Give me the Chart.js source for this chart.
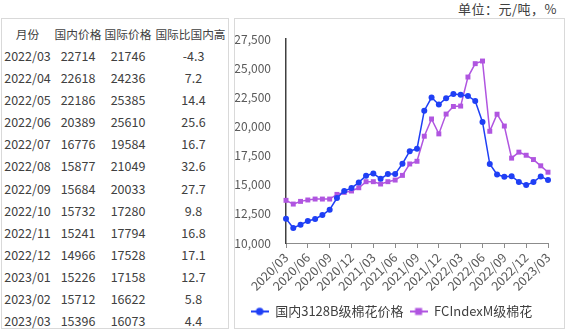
<!DOCTYPE html>
<html>
<head>
<meta charset="utf-8">
<script src="https://cdn.jsdelivr.net/npm/chart.js@4/dist/chart.umd.min.js"></script>
<style>
  body { margin: 0; width: 568px; height: 335px; background: #fff; position: relative; overflow: hidden;
         font-family: "Noto Sans CJK SC", "Noto Sans", sans-serif; color: #404040; }
  #unit { position: absolute; left: 458px; top: 0px; font-size: 13px; line-height: 17px; color: #404040; letter-spacing: 0.5px; }
  #tableBox { position: absolute; left: 1px; top: 18px; width: 226px; height: 309px; border: 1px solid #d9d9d9; }
  #priceTable { position: absolute; left: 0; top: 3px; border-collapse: collapse; font-size: 12.5px; }
  #priceTable td { height: 22.15px; padding: 0; text-align: center; white-space: nowrap; }
  #priceTable tr.head td { font-size: 11.7px; }
  #chartBox { position: absolute; left: 234px; top: 18px; width: 329px; height: 309px; border: 1px solid #d9d9d9; }
  #chartWrap { position: absolute; left: 0; top: 0; width: 329px; height: 309px; }
</style>
</head>
<body>
<div id="unit">单位：元/吨，%</div>
<div id="tableBox">
  <table id="priceTable">
    <colgroup><col style="width:51px"><col style="width:50px"><col style="width:50px"><col style="width:75px"></colgroup>
    <tbody></tbody>
  </table>
</div>
<div id="chartBox"><div id="chartWrap"><canvas id="cottonChart"></canvas></div></div>

<script>
// 月份（2020/03 - 2023/03）
const months = [
  '2020/03','2020/04','2020/05','2020/06','2020/07','2020/08','2020/09','2020/10','2020/11','2020/12',
  '2021/01','2021/02','2021/03','2021/04','2021/05','2021/06','2021/07','2021/08','2021/09','2021/10',
  '2021/11','2021/12','2022/01','2022/02','2022/03','2022/04','2022/05','2022/06','2022/07','2022/08',
  '2022/09','2022/10','2022/11','2022/12','2023/01','2023/02','2023/03'
];

// 国内3128B级棉花价格
const domesticPrice = [
  12090, 11290, 11570, 11890, 12060, 12400, 12860, 13860, 14460, 14710,
  15200, 15770, 15970, 15510, 15910, 15910, 16800, 17880, 18080, 21350,
  22480, 21880, 22420, 22790, 22714, 22618, 22186, 20389, 16776, 15877,
  15684, 15732, 15241, 14966, 15226, 15712, 15396
];

// FCIndexM级棉花
const intlPrice = [
  13660, 13340, 13570, 13690, 13770, 13770, 13770, 14170, 14340, 14460,
  14740, 15260, 15260, 15060, 15260, 15400, 15800, 16780, 17010, 19160,
  20640, 19360, 21060, 21710, 21746, 24236, 25385, 25610, 19584, 21049,
  20033, 17280, 17794, 17528, 17158, 16622, 16073
];

// 国际比国内高 (%)，表格最后13个月
const intlPremium = [-4.3, 7.2, 14.4, 25.6, 16.7, 32.6, 27.7, 9.8, 16.8, 17.1, 12.7, 5.8, 4.4];

const yTicks = [10000, 12500, 15000, 17500, 20000, 22500, 25000, 27500];

const blue = '#1f3ff5';
const purple = '#b055e0';

// 表格
function renderTable() {
  const body = document.querySelector('#priceTable tbody');
  let html = '<tr class="head"><td>月份</td><td>国内价格</td><td>国际价格</td><td>国际比国内高</td></tr>';
  const start = months.length - intlPremium.length;
  intlPremium.forEach((p, i) => {
    const k = start + i;
    html += `<tr><td>${months[k]}</td><td>${domesticPrice[k]}</td><td>${intlPrice[k]}</td><td style="padding-left:6px">${p}</td></tr>`;
  });
  body.innerHTML = html;
}

// 图例标记 (-●- / -■-)
function legendMark(color, square) {
  const c = document.createElement('canvas');
  c.width = 18; c.height = 10;
  const g = c.getContext('2d');
  g.strokeStyle = color; g.lineWidth = 2;
  g.beginPath(); g.moveTo(0, 5); g.lineTo(18, 5); g.stroke();
  g.fillStyle = color;
  if (square) g.fillRect(5.5, 1.5, 7, 7);
  else { g.beginPath(); g.arc(9, 5, 3.8, 0, Math.PI * 2); g.fill(); }
  return c;
}

function renderChart() {
  const ctx = document.getElementById('cottonChart').getContext('2d');
  const marks = [legendMark(blue, false), legendMark(purple, true)];
  new Chart(ctx, {
    type: 'line',
    data: {
      labels: months,
      datasets: [{
        label: '国内3128B级棉花价格',
        data: domesticPrice,
        borderColor: blue,
        backgroundColor: blue,
        borderWidth: 1.5,
        pointStyle: 'circle',
        pointRadius: 3,
        pointBorderWidth: 0,
        tension: 0
      }, {
        label: 'FCIndexM级棉花',
        data: intlPrice,
        borderColor: purple,
        backgroundColor: purple,
        borderWidth: 1.5,
        pointStyle: 'rect',
        pointRadius: 3.5,
        pointBorderWidth: 0,
        tension: 0
      }]
    },
    options: {
      responsive: true,
      maintainAspectRatio: false,
      animation: false,
      layout: { padding: { top: 20, right: 16, left: 0, bottom: 0 } },
      plugins: {
        tooltip: { enabled: false },
        legend: {
          position: 'bottom',
          maxWidth: 329,
          labels: {
            usePointStyle: true,
            pointStyleWidth: 18,
            padding: 6,
            color: '#404040',
            font: { family: 'Noto Sans CJK SC', size: 13 },
            generateLabels: chart => {
              const items = Chart.defaults.plugins.legend.labels.generateLabels(chart);
              items.forEach((it, i) => { it.pointStyle = marks[i]; });
              return items;
            }
          }
        }
      },
      scales: {
        x: {
          offset: false,
          afterBuildTicks: s => { s.ticks = s.ticks.filter((t, i) => i % 3 === 0); },
          afterFit: s => { s.height = 56; },
          grid: { display: true, drawOnChartArea: false, drawTicks: true, tickLength: 5, color: '#8c8c8c' },
          border: { display: true, color: '#8c8c8c', width: 1 },
          ticks: {
            autoSkip: false,
            minRotation: 45,
            maxRotation: 45,
            padding: 2,
            color: '#595959',
            font: { family: 'Noto Sans CJK SC', size: 12.5 }
          }
        },
        y: {
          min: 10000,
          max: 27500,
          afterBuildTicks: s => { s.ticks = yTicks.map(v => ({ value: v })); },
          afterFit: s => { s.width = 51; },
          grid: { display: false },
          border: { display: true, color: '#404040', width: 1.5 },
          ticks: {
            color: '#595959',
            padding: 7,
            font: { family: 'Noto Sans CJK SC', size: 12 },
            callback: v => v.toLocaleString('en-US')
          }
        }
      }
    }
  });
}

window.onload = function() {
  renderTable();
  renderChart();
};
</script>
</body>
</html>
